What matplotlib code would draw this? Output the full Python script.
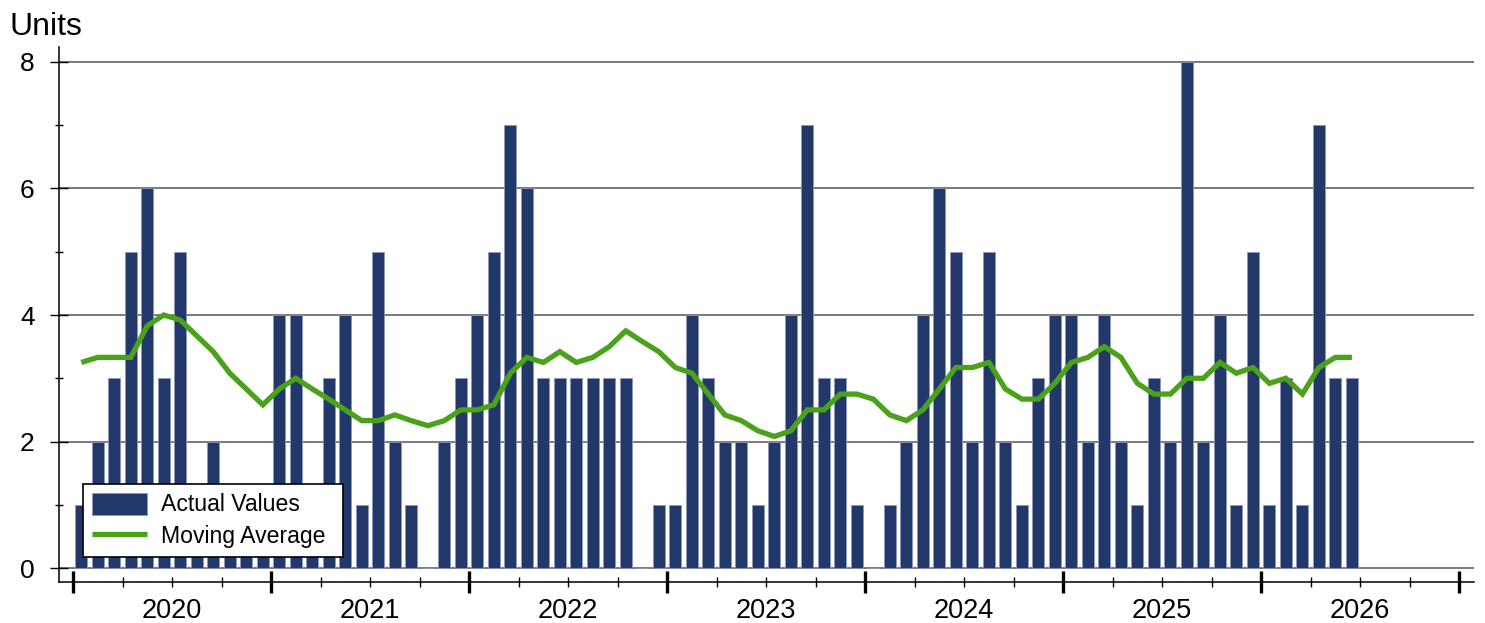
import matplotlib
matplotlib.use('Agg')
import matplotlib.pyplot as plt
from matplotlib.ticker import FixedLocator
import numpy as np

plt.rcParams['font.family'] = ['Liberation Sans', 'DejaVu Sans']

# ---- data (monthly, Jan 2020 .. Jun 2026) ----
years = ['2020', '2021', '2022', '2023', '2024', '2025', '2026']
actual_2020 = [1, 2, 3, 5, 6, 3, 5, 1, 2, 1, 1, 1]
actual_2021 = [4, 4, 1, 3, 4, 1, 5, 2, 1, 0, 2, 3]
actual_2022 = [4, 5, 7, 6, 3, 3, 3, 3, 3, 3, 0, 1]
actual_2023 = [1, 4, 3, 2, 2, 1, 2, 4, 7, 3, 3, 1]
actual_2024 = [0, 1, 2, 4, 6, 5, 2, 5, 2, 1, 3, 4]
actual_2025 = [4, 2, 4, 2, 1, 3, 2, 8, 2, 4, 1, 5]
actual_2026 = [1, 3, 1, 7, 3, 3]

ma_2020 = [3.25, 3.33, 3.33, 3.33, 3.83, 4.00, 3.92, 3.67, 3.42, 3.08, 2.83, 2.58]
ma_2021 = [2.83, 3.00, 2.83, 2.67, 2.50, 2.33, 2.33, 2.42, 2.33, 2.25, 2.33, 2.50]
ma_2022 = [2.50, 2.58, 3.08, 3.33, 3.25, 3.42, 3.25, 3.33, 3.50, 3.75, 3.58, 3.42]
ma_2023 = [3.17, 3.08, 2.75, 2.42, 2.33, 2.17, 2.08, 2.17, 2.50, 2.50, 2.75, 2.75]
ma_2024 = [2.67, 2.42, 2.33, 2.50, 2.83, 3.17, 3.17, 3.25, 2.83, 2.67, 2.67, 2.92]
ma_2025 = [3.25, 3.33, 3.50, 3.33, 2.92, 2.75, 2.75, 3.00, 3.00, 3.25, 3.08, 3.17]
ma_2026 = [2.92, 3.00, 2.75, 3.17, 3.33, 3.33]

actual_values = (actual_2020 + actual_2021 + actual_2022 + actual_2023 +
                 actual_2024 + actual_2025 + actual_2026)
moving_average = (ma_2020 + ma_2021 + ma_2022 + ma_2023 +
                  ma_2024 + ma_2025 + ma_2026)

y_ticks = [0, 2, 4, 6, 8]

# ---- figure ----
W, H = 1485, 623
fig = plt.figure(figsize=(W / 100, H / 100), dpi=100)
ax = fig.add_axes([59 / W, 41 / H, (1474 - 59) / W, (582 - 47) / H])

x = np.arange(len(actual_values)) + 0.5
bars = ax.bar(x, actual_values, width=0.74, color='#22386a', edgecolor='#8d97ba',
              linewidth=0.6, label='Actual Values', zorder=2)
line, = ax.plot(x, moving_average, color='#4aa21b', lw=3.8, label='Moving Average',
                zorder=3, solid_joinstyle='miter', solid_capstyle='butt')

ax.set_xlim(-0.85, 84.9)
ax.set_ylim(-0.221, 8.237)

# y axis
ax.set_yticks(y_ticks)
ax.set_yticklabels([str(v) for v in y_ticks])
ax.yaxis.set_minor_locator(FixedLocator([1, 3, 5, 7]))
ax.tick_params(axis='y', which='major', direction='inout', length=13,
               width=1.0, labelsize=19, pad=11, colors='black')
ax.tick_params(axis='y', which='minor', direction='inout', length=6,
               width=1.0)
ax.yaxis.grid(True, which='major', color='#707070', linewidth=1.3, zorder=0)
ax.set_axisbelow(True)

# x axis
n_years = len(years)
ax.set_xticks([12 * i for i in range(n_years + 1)])
ax.set_xticklabels([])
ax.xaxis.set_minor_locator(FixedLocator([3 * i for i in range(4 * n_years + 1) if i % 4]))
ax.tick_params(axis='x', which='major', direction='inout', length=16.5,
               width=2.4, colors='black')
ax.tick_params(axis='x', which='minor', direction='inout', length=7,
               width=1.0)
for i, yr in enumerate(years):
    ax.annotate(yr, xy=(12 * i + 6, 0), xycoords=('data', 'axes fraction'),
                xytext=(0, -29), textcoords='offset pixels',
                ha='center', va='center', fontsize=19.5)

for s in ['top', 'right']:
    ax.spines[s].set_visible(False)
for s in ['left', 'bottom']:
    ax.spines[s].set_linewidth(1.1)
    ax.spines[s].set_color('black')

fig.text(9 / W, 1 - 35 / H, 'Units', fontsize=23, va='baseline', ha='left')

leg = ax.legend(handles=[bars, line], labels=['Actual Values', 'Moving Average'],
                loc='lower left', mode='expand',
                bbox_to_anchor=((83 - 59) / 1415, (582 - 557) / 535,
                                (343 - 83) / 1415, 0.1),
                fontsize=16.6, frameon=True, fancybox=False, framealpha=1,
                edgecolor='black', handlelength=2.4, handleheight=1.1,
                handletextpad=0.6, labelspacing=0.34, borderpad=0.38,
                borderaxespad=0)
leg.get_frame().set_linewidth(1.2)

fig.savefig('out.png', dpi=100)
